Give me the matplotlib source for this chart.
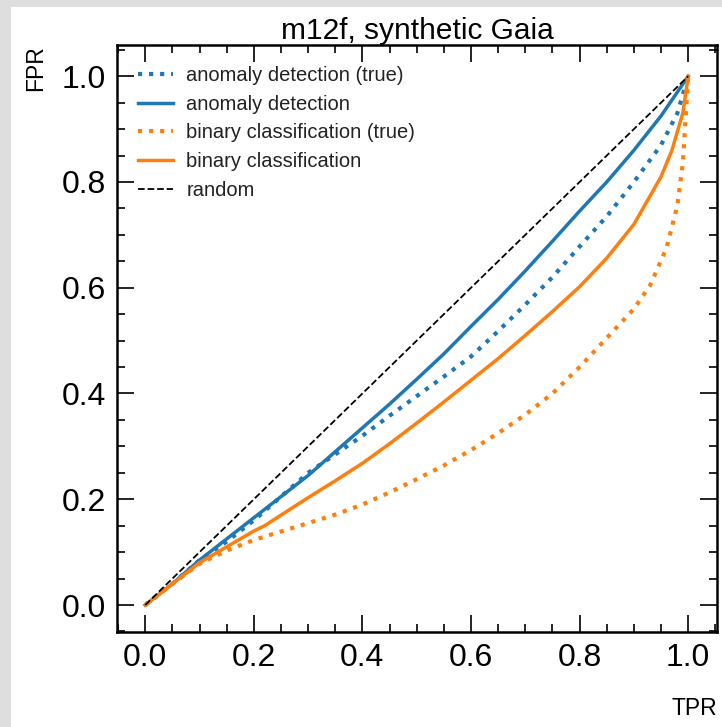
import matplotlib
matplotlib.use("Agg")
import matplotlib.pyplot as plt
from matplotlib.patches import Rectangle
from matplotlib.ticker import MultipleLocator

# ROC-style curves (TPR on x, FPR on y)
ad_true_x = [0.0, 0.05, 0.1, 0.15, 0.2, 0.25, 0.3, 0.35, 0.4, 0.45, 0.5, 0.55, 0.6, 0.65, 0.7, 0.75, 0.8, 0.85, 0.9, 0.95, 0.98, 1.0]
ad_true_y = [0.0, 0.04, 0.085, 0.12, 0.16, 0.205, 0.25, 0.285, 0.32, 0.358, 0.395, 0.432, 0.47, 0.518, 0.568, 0.62, 0.678, 0.735, 0.80, 0.87, 0.93, 1.0]

ad_x = [0.0, 0.05, 0.1, 0.15, 0.2, 0.25, 0.3, 0.35, 0.4, 0.45, 0.5, 0.55, 0.6, 0.65, 0.7, 0.75, 0.8, 0.85, 0.9, 0.95, 1.0]
ad_y = [0.0, 0.04, 0.085, 0.125, 0.165, 0.205, 0.245, 0.29, 0.335, 0.38, 0.427, 0.475, 0.527, 0.578, 0.632, 0.688, 0.745, 0.80, 0.86, 0.925, 1.0]

bc_true_x = [0.0, 0.05, 0.1, 0.15, 0.2, 0.25, 0.3, 0.35, 0.4, 0.45, 0.5, 0.55, 0.6, 0.65, 0.7, 0.75, 0.8, 0.85, 0.9, 0.93, 0.96, 0.98, 0.99, 1.0]
bc_true_y = [0.0, 0.04, 0.078, 0.103, 0.123, 0.139, 0.155, 0.171, 0.19, 0.213, 0.238, 0.264, 0.293, 0.325, 0.36, 0.40, 0.45, 0.505, 0.56, 0.605, 0.675, 0.755, 0.835, 1.0]

bc_x = [0.0, 0.05, 0.1, 0.15, 0.2, 0.22, 0.25, 0.3, 0.35, 0.4, 0.45, 0.5, 0.55, 0.6, 0.65, 0.7, 0.75, 0.8, 0.85, 0.9, 0.95, 0.97, 0.99, 1.0]
bc_y = [0.0, 0.04, 0.08, 0.11, 0.14, 0.15, 0.17, 0.203, 0.235, 0.268, 0.305, 0.344, 0.384, 0.425, 0.466, 0.51, 0.555, 0.602, 0.656, 0.72, 0.81, 0.86, 0.93, 1.0]

random_x = [0.0, 1.0]
random_y = [0.0, 1.0]

plt.rcParams["font.family"] = ["Liberation Sans", "DejaVu Sans"]

fig = plt.figure(figsize=(7.22, 7.27), dpi=100)
fig.patch.set_facecolor("#dedede")
fig.patches.append(Rectangle((11 / 722, 0), 1, 1 - 7 / 727, transform=fig.transFigure,
                             facecolor="white", edgecolor="none", zorder=-10))

ax = fig.add_axes([117 / 722, 1 - 632 / 727, 600 / 722, 587 / 727])

ax.plot(ad_true_x, ad_true_y, ":", color="#1f77b4", lw=3, label="anomaly detection (true)")
ax.plot(ad_x, ad_y, "-", color="#1f77b4", lw=2.5, label="anomaly detection")
ax.plot(bc_true_x, bc_true_y, ":", color="#ff7f0e", lw=3, label="binary classification (true)")
ax.plot(bc_x, bc_y, "-", color="#ff7f0e", lw=2.5, label="binary classification")
ax.plot(random_x, random_y, "--", color="black", lw=1.3, label="random")

ax.set_xlim(-0.052, 1.053)
ax.set_ylim(-0.051, 1.059)

ax.xaxis.set_major_locator(MultipleLocator(0.2))
ax.yaxis.set_major_locator(MultipleLocator(0.2))
ax.xaxis.set_minor_locator(MultipleLocator(0.05))
ax.yaxis.set_minor_locator(MultipleLocator(0.05))
ax.xaxis.set_major_formatter(lambda v, p: f"{v:.1f}")
ax.yaxis.set_major_formatter(lambda v, p: f"{v:.1f}")
ax.tick_params(which="both", direction="in", top=True, right=True, width=1.2)
ax.tick_params(which="major", length=12, labelsize=23, pad=8)
ax.tick_params(which="minor", length=6)
for s in ax.spines.values():
    s.set_linewidth(1.8)

ax.set_title("m12f, synthetic Gaia", fontsize=21.5, pad=4)
ax.set_xlabel("TPR", fontsize=16.5, loc="right", labelpad=17)
ax.set_ylabel("FPR", fontsize=16.5, loc="top", labelpad=10)

ax.legend(loc="upper left", frameon=False, fontsize=14.5, handlelength=1.75,
          labelspacing=0.48, borderaxespad=0.65, borderpad=0.4, handletextpad=0.65,
          labelcolor="#222222")

fig.savefig("out.png", dpi=100, facecolor=fig.get_facecolor())
